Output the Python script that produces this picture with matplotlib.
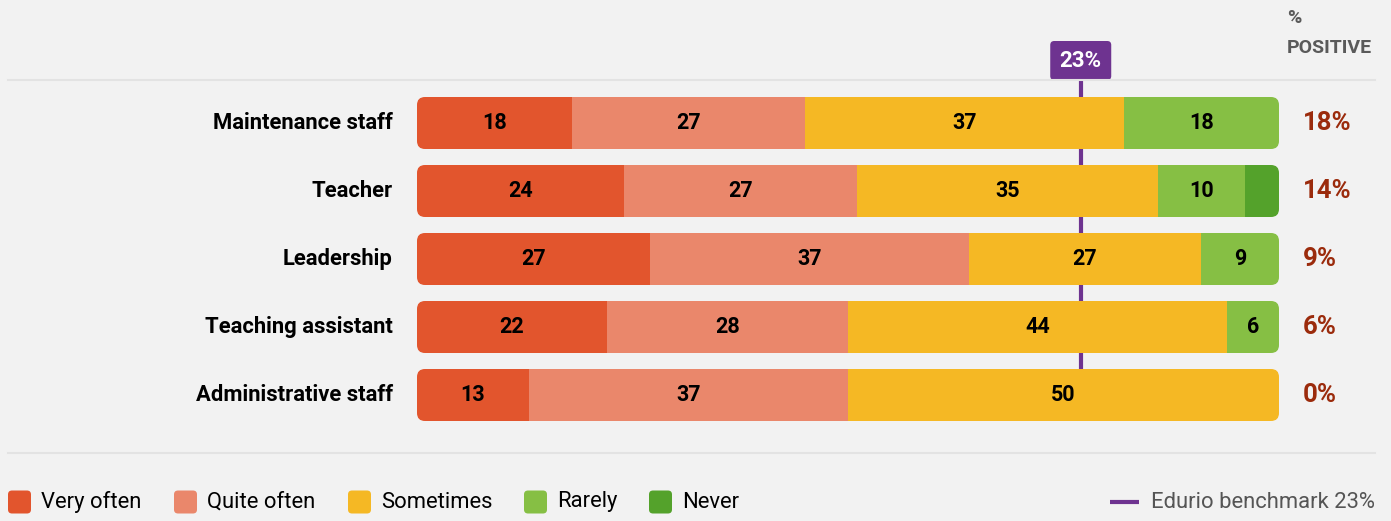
import matplotlib.pyplot as plt
from matplotlib.patches import FancyBboxPatch
from matplotlib.lines import Line2D

plt.rcParams['font.family'] = ['Roboto', 'DejaVu Sans']

groups = ['Maintenance staff', 'Teacher', 'Leadership', 'Teaching assistant', 'Administrative staff']
categories = ['Very often', 'Quite often', 'Sometimes', 'Rarely', 'Never']
very_often = [18, 24, 27, 22, 13]
quite_often = [27, 27, 37, 28, 37]
sometimes = [37, 35, 27, 44, 50]
rarely = [18, 10, 9, 6, 0]
never = [0, 4, 0, 0, 0]
positive = [18, 14, 9, 6, 0]
benchmark = 23

colors = ['#e2552d', '#ea876b', '#f5b824', '#86bf44', '#54a22b']
purple = '#6e3390'
bg = '#f2f2f2'

W, H = 1391, 521
fig = plt.figure(figsize=(W / 100, H / 100), dpi=100, facecolor=bg)

# bar area: 0..100 % across, one unit per row
left, right = 417, 1279
px_x = (right - left) / 100
px_y = 68
row0 = 123
ax = fig.add_axes([left / W, 0, (right - left) / W, 1])
ax.set_xlim(0, 100)
ax.set_ylim((H - row0) / px_y, -row0 / px_y)
ax.axis('off')
ax.set_facecolor(bg)

bar_h = 52 / px_y
series = [very_often, quite_often, sometimes, rarely, never]

# benchmark line sits behind the bars
bx = 100 - benchmark
ax.plot([bx, bx], [(80 - row0) / px_y, len(groups) - 1], color=purple, lw=3, zorder=1,
        solid_capstyle='butt')
badge = FancyBboxPatch((bx - 30.5 / px_x, (41 - row0) / px_y), 61 / px_x, 39 / px_y,
                       boxstyle=f'round,pad=0,rounding_size={4 / px_x}',
                       mutation_aspect=px_x / px_y, fc=purple, ec='none', zorder=3)
ax.add_patch(badge)
ax.text(bx, (61 - row0) / px_y, f'{benchmark}%', color='white', fontsize=16,
        fontweight='bold', ha='center', va='center', zorder=4)

for i, g in enumerate(groups):
    total = sum(s[i] for s in series)
    clip = FancyBboxPatch((0, i - bar_h / 2), total, bar_h,
                          boxstyle=f'round,pad=0,rounding_size={8 / px_x}',
                          mutation_aspect=px_x / px_y, fc='none', ec='none',
                          transform=ax.transData)
    ax.add_patch(clip)
    start = 0
    for s, c in zip(series, colors):
        v = s[i]
        if v == 0:
            continue
        bars = ax.barh(i, v, left=start, height=bar_h, color=c, zorder=2)
        for b in bars:
            b.set_clip_path(clip)
        if v >= 5:
            ax.text(start + v / 2, i, str(v), ha='center', va='center',
                    fontsize=15.5, fontweight='bold', color='black', zorder=3)
        start += v
    ax.annotate(g, xy=(0, i), xytext=(-24, 0), textcoords='offset pixels',
                ha='right', va='center', fontsize=15.8, fontweight='bold', color='black')
    ax.annotate(f'{positive[i]}%', xy=(100, i), xytext=(24, 0), textcoords='offset pixels',
                ha='left', va='center', fontsize=18.5, fontweight='bold', color='#9b2b0c')

# header for the right column
fig.text(1287 / W, 1 - 18 / H, '%', fontsize=14, fontweight='bold', color='#5a5a5a', va='center')
fig.text(1287 / W, 1 - 48 / H, 'POSITIVE', fontsize=14, fontweight='bold', color='#5a5a5a',
         va='center')

# separators
for yy in (80, 453):
    fig.add_artist(Line2D([8 / W, 1375 / W], [1 - yy / H] * 2, color='#e3e3e3', lw=1.5))

# legend
ly = 502
sq = 23
leg_x = [8, 174, 348, 524, 649]
for x0, lab, c in zip(leg_x, categories, colors):
    fig.add_artist(FancyBboxPatch((x0 / W, 1 - (ly + sq / 2) / H), sq / W, sq / H,
                                  boxstyle=f'round,pad=0,rounding_size={4 / W}',
                                  mutation_aspect=W / H, fc=c, ec='none',
                                  transform=fig.transFigure))
    fig.text((x0 + 33) / W, 1 - ly / H, lab, fontsize=15.8, color='black', va='center')

fig.add_artist(Line2D([1110 / W, 1139 / W], [1 - ly / H] * 2, color=purple, lw=3,
                      solid_capstyle='butt'))
fig.text(1151 / W, 1 - ly / H, f'Edurio benchmark {benchmark}%', fontsize=15.8,
         color='#555555', va='center')

fig.savefig('out.png', dpi=100, facecolor=bg)
